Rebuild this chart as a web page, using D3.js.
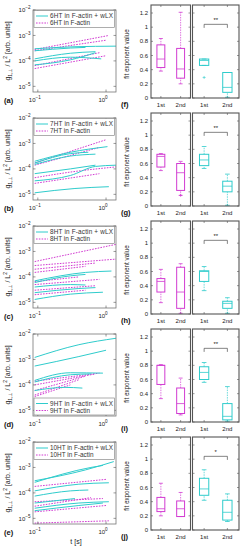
<!DOCTYPE html>
<html>
<head>
<meta charset="utf-8">
<script src="https://cdn.jsdelivr.net/npm/d3@7"></script>
<style>
  body { margin: 0; background: #fff; }
  svg { display: block; font-family: "Liberation Sans", Arial, sans-serif; }
</style>
</head>
<body>
<svg></svg>
<script>
// размеры окна
const width = 244;
const height = 550;

// подписи панелей и названия образцов
const curveLabels = ["(a)", "(b)", "(c)", "(d)", "(e)"];
const boxLabels = ["(f)", "(g)", "(h)", "(i)", "(j)"];
const htNames = ["6HT", "7HT", "8HT", "9HT", "10HT"];
const legendAtBottom = [false, false, false, true, false];
const categories = ["1st", "2nd"];
const sigMarks = ["**", "**", "**", "**", "*"];
const yTicksLog = [1e-5, 1e-4, 1e-3, 1e-2];
const xTicksLog = [0.1, 1];
const yTicksBox = [0, 0.2, 0.4, 0.6, 0.8, 1, 1.2];

// кривые g(t): [t, g] — F-actin + wLX (циан)
const cyanCurves = [
  [ [[0.09,3.0e-4],[0.35,3.6e-4],[1.4,3.8e-4]],
    [[0.09,2.5e-4],[0.3,3.2e-4],[0.5,3.4e-4]],
    [[0.09,1.2e-4],[0.3,2.0e-4],[0.7,2.3e-4]],
    [[0.09,1.0e-4],[0.3,1.4e-4],[0.85,1.2e-4]],
    [[0.09,7.0e-5],[0.3,1.1e-4],[0.7,2.1e-4]] ],
  [ [[0.09,2.0e-4],[0.3,4.5e-4],[1.05,7.5e-4]],
    [[0.09,1.7e-4],[0.3,4.0e-4],[0.55,4.5e-4]],
    [[0.09,1.5e-4],[0.3,3.2e-4],[0.7,3.8e-4]],
    [[0.09,6.5e-5],[0.3,1.0e-4],[0.7,1.4e-4]],
    [[0.09,3.4e-5],[0.3,5.5e-5],[0.7,1.25e-4],[1.4,1.4e-4]],
    [[0.09,1.15e-5],[0.35,1.7e-5],[1.1,2.0e-5]] ],
  [ [[0.09,7.0e-5],[0.5,1.5e-4],[1.2,1.7e-4]],
    [[0.09,6.0e-5],[0.3,1.1e-4],[0.5,1.25e-4]],
    [[0.09,4.0e-5],[0.3,5.0e-5],[0.5,4.8e-5]],
    [[0.09,2.4e-5],[0.4,3.5e-5],[0.7,3.8e-5]],
    [[0.09,1.3e-5],[0.3,2.1e-5],[0.9,2.5e-5]] ],
  [ [[0.09,1.2e-3],[0.4,3.8e-3],[1.4,6.8e-3]],
    [[0.09,5.5e-4],[0.4,1.3e-3],[1.0,2.3e-3]],
    [[0.09,1.5e-4],[0.3,3.0e-4],[0.9,2.9e-4]],
    [[0.09,1.3e-4],[0.3,2.5e-4],[0.6,2.7e-4]],
    [[0.09,6.0e-5],[0.25,8.0e-5],[0.45,7.5e-5]] ],
  [ [[0.09,3.0e-4],[0.5,8.0e-4],[1.3,1.7e-3]],
    [[0.09,2.6e-4],[0.6,1.0e-3],[0.9,1.2e-3]],
    [[0.09,1.2e-4],[0.4,2.2e-4],[1.1,2.5e-4]],
    [[0.09,7.5e-5],[0.3,1.2e-4],[0.55,1.3e-4]],
    [[0.09,4.0e-5],[0.35,6.0e-5]],
    [[0.09,2.0e-5],[0.4,3.2e-5],[0.9,4.0e-5]],
    [[0.09,2.5e-5],[0.4,4.0e-5],[1.1,4.5e-5]] ]
];

// кривые g(t): [t, g] — только F-actin (маджента, пунктир)
const magentaCurves = [
  [ [[0.09,2.8e-4],[1.1,1.0e-3]],
    [[0.09,2.5e-4],[1.0,6.5e-4]],
    [[0.09,6.5e-5],[0.8,2.1e-4]],
    [[0.09,5.0e-5],[1.0,1.6e-4]] ],
  [ [[0.09,1.7e-4],[1.0,1.4e-3]],
    [[0.09,1.4e-4],[0.8,7.0e-4]],
    [[0.09,4.5e-5],[0.3,7.5e-5],[1.4,1.2e-4]],
    [[0.09,2.7e-5],[0.8,6.5e-5]] ],
  [ [[0.09,4.0e-4],[1.4,1.9e-3]],
    [[0.09,2.8e-4],[1.4,5.0e-4]],
    [[0.09,2.0e-4],[0.7,3.5e-4]],
    [[0.09,1.5e-4],[0.5,2.6e-4]],
    [[0.09,6.5e-5],[0.4,1.0e-4]],
    [[0.09,5.0e-5],[0.8,8.0e-5]],
    [[0.09,3.0e-5],[0.7,4.5e-5]],
    [[0.09,2.0e-5],[0.5,3.0e-5]] ],
  [ [[0.09,1.4e-4],[0.8,2.9e-4]],
    [[0.09,1.0e-4],[0.7,2.7e-4]],
    [[0.09,6.0e-5],[0.5,2.2e-4]],
    [[0.09,4.0e-5],[0.4,1.6e-4]],
    [[0.09,3.5e-5],[0.3,1.0e-4]] ],
  [ [[0.09,1.8e-4],[1.0,3.4e-4]],
    [[0.09,4.5e-5],[0.9,6.0e-5]],
    [[0.09,3.0e-5],[0.6,6.5e-5]],
    [[0.09,1.8e-5],[1.0,3.2e-5]],
    [[0.09,6.5e-6],[1.1,8.0e-6]] ]
];

// боксплоты: [нижний ус, q1, медиана, q3, верхний ус] для 1st и 2nd
const magentaBoxes = [
  [[0.38,0.43,0.55,0.75,0.84], [0.20,0.28,0.41,0.70,1.21]],
  [[0.50,0.55,0.70,0.73,0.74], [0.15,0.22,0.47,0.60,0.63]],
  [[0.16,0.31,0.46,0.50,0.63], [0.01,0.08,0.31,0.66,0.71]],
  [[0.33,0.53,0.80,0.80,0.81], [0.10,0.12,0.26,0.48,0.62]],
  [[0.20,0.26,0.30,0.46,0.66], [0.19,0.19,0.30,0.41,0.53]]
];
const cyanBoxes = [
  [[0.46,0.46,0.53,0.55,0.55], [0.01,0.08,0.15,0.36,0.36]],
  [[0.53,0.57,0.65,0.73,0.84], [0.01,0.20,0.28,0.35,0.45]],
  [[0.33,0.46,0.60,0.61,0.67], [0.01,0.08,0.15,0.18,0.23]],
  [[0.56,0.60,0.70,0.78,0.84], [0.01,0.03,0.08,0.26,0.50]],
  [[0.42,0.49,0.58,0.73,0.85], [0.12,0.14,0.25,0.42,0.51]]
];
const magentaOutliers = [[[], []], [[], [0.15]], [[], []], [[], []], [[], []]];
const cyanOutliers = [[[0.29], []], [[], []], [[], []], [[], []], [[], []]];

const cyan = "#2fcccc";
const magenta = "#d23bd2";
const frameGray = "#555";

const svg = d3.select("svg").attr("width", width).attr("height", height);

// подпись степени 10^n
function powLabel(sel, v) {
  const e = Math.round(Math.log10(v));
  sel.append("tspan").text("10");
  sel.append("tspan").attr("dy", -3).attr("font-size", 4.6).text(String(e).replace("-", "\u2212"));
}

for (let r = 0; r < 5; r++) {
  const y0 = 98 + r * 108;
  const top = y0 - 88, bottom = y0 - 6;
  const left = 33, right = 116;

  // ---- левая панель: кривые в лог-лог ----
  const x = d3.scaleLog().domain([0.085, 1.4]).range([left, right]);
  const y = d3.scaleLog().domain([6e-6, 1e-2]).range([bottom, top]);
  const g = svg.append("g");

  g.append("clipPath").attr("id", "clip" + r)
    .append("rect").attr("x", left).attr("y", top).attr("width", right - left).attr("height", bottom - top);

  const line = d3.line().x(d => x(d[0])).y(d => y(d[1])).curve(d3.curveMonotoneX);
  const plot = g.append("g").attr("clip-path", `url(#clip${r})`);

  plot.selectAll(".mc").data(magentaCurves[r]).join("path")
    .attr("d", line).attr("fill", "none").attr("stroke", magenta)
    .attr("stroke-width", 1).attr("stroke-dasharray", "1.6,1.2");
  plot.selectAll(".cc").data(cyanCurves[r]).join("path")
    .attr("d", line).attr("fill", "none").attr("stroke", cyan).attr("stroke-width", 1);

  g.append("rect").attr("x", left).attr("y", top).attr("width", right - left).attr("height", bottom - top)
    .attr("fill", "none").attr("stroke", "#777").attr("stroke-width", 0.8);

  // деления
  yTicksLog.forEach(v => {
    g.append("line").attr("x1", left).attr("x2", left + 2.5).attr("y1", y(v)).attr("y2", y(v)).attr("stroke", "#555").attr("stroke-width", 0.6);
    g.append("line").attr("x1", right).attr("x2", right - 2.5).attr("y1", y(v)).attr("y2", y(v)).attr("stroke", "#555").attr("stroke-width", 0.6);
    const t = g.append("text").attr("x", 30.5).attr("y", y(v) + 2.2).attr("text-anchor", "end")
      .attr("font-size", 6).attr("fill", "#222");
    powLabel(t, v);
  });
  xTicksLog.forEach(v => {
    g.append("line").attr("x1", x(v)).attr("x2", x(v)).attr("y1", bottom).attr("y2", bottom - 2.5).attr("stroke", "#555").attr("stroke-width", 0.6);
    g.append("line").attr("x1", x(v)).attr("x2", x(v)).attr("y1", top).attr("y2", top + 2.5).attr("stroke", "#555").attr("stroke-width", 0.6);
    const t = g.append("text").attr("x", x(v) - 3).attr("y", bottom + 10).attr("text-anchor", "middle")
      .attr("font-size", 6).attr("fill", "#222");
    powLabel(t, v);
  });

  // подпись оси y
  const yl = g.append("text").attr("transform", `translate(10,${(top + bottom) / 2}) rotate(-90)`)
    .attr("text-anchor", "middle").attr("font-size", 7).attr("fill", "#222");
  yl.append("tspan").text("g");
  yl.append("tspan").attr("dy", 2).attr("font-size", 5).text("1,\u22a5");
  yl.append("tspan").attr("dy", -2).text(" / L");
  yl.append("tspan").attr("dy", -3).attr("font-size", 5).text("2");
  yl.append("tspan").attr("dy", 3).text(" [arb. units]");

  g.append("text").attr("x", 4).attr("y", bottom + 11).attr("font-size", 7.5).attr("font-weight", "bold")
    .attr("fill", "#111").text(curveLabels[r]);

  // легенда
  const lh = 17;
  const ly = legendAtBottom[r] ? bottom - lh - 1 : top + 0.5;
  const leg = g.append("g");
  leg.append("rect").attr("x", 34).attr("y", ly).attr("width", 80.5).attr("height", lh)
    .attr("fill", "#fff").attr("stroke", "#777").attr("stroke-width", 0.6);
  const items = [[htNames[r] + " in F-actin + wLX", cyan, null], [htNames[r] + " in F-actin", magenta, "1.6,1.2"]];
  items.forEach((it, i) => {
    const yy = ly + 5.5 + i * 7;
    leg.append("line").attr("x1", 36).attr("x2", 48).attr("y1", yy).attr("y2", yy)
      .attr("stroke", it[1]).attr("stroke-width", 1).attr("stroke-dasharray", it[2]);
    leg.append("text").attr("x", 50).attr("y", yy + 2.2).attr("font-size", 6.4).attr("fill", "#333")
      .attr("textLength", i === 0 ? 63 : null).text(it[0]);
  });

  // ---- правая панель: боксплоты ----
  const yb = d3.scaleLinear().domain([0, 1.2]).range([y0, y0 - 85]);
  const frames = [[151, 190.5, magenta, magentaBoxes[r], magentaOutliers[r]], [192.5, 239, cyan, cyanBoxes[r], cyanOutliers[r]]];
  frames.forEach((f, k) => {
    const xb = d3.scalePoint().domain(categories).range([f[0], f[1]]).padding(0.5);
    const bw = 0.4 * xb.step();
    const fg = svg.append("g");

    yTicksBox.forEach(v => {
      fg.append("line").attr("x1", f[0]).attr("x2", f[0] + 2).attr("y1", yb(v)).attr("y2", yb(v)).attr("stroke", "#333").attr("stroke-width", 0.5);
      fg.append("line").attr("x1", f[1]).attr("x2", f[1] - 2).attr("y1", yb(v)).attr("y2", yb(v)).attr("stroke", "#333").attr("stroke-width", 0.5);
      if (k === 0) {
        fg.append("text").attr("x", 148).attr("y", yb(v) + 2).attr("text-anchor", "end")
          .attr("font-size", 6).attr("fill", "#222").text(v);
      }
    });
    categories.forEach((c, i) => {
      const cx = xb(c);
      const b = f[3][i];
      fg.append("line").attr("x1", cx).attr("x2", cx).attr("y1", y0).attr("y2", y0 - 2).attr("stroke", "#333").attr("stroke-width", 0.5);
      fg.append("line").attr("x1", cx).attr("x2", cx).attr("y1", y0 - 93).attr("y2", y0 - 91).attr("stroke", "#333").attr("stroke-width", 0.5);
      fg.append("text").attr("x", cx).attr("y", y0 + 9).attr("text-anchor", "middle")
        .attr("font-size", 6).attr("fill", "#222").text(c);
      // усы
      fg.append("line").attr("x1", cx).attr("x2", cx).attr("y1", yb(b[0])).attr("y2", yb(b[1]))
        .attr("stroke", f[2]).attr("stroke-width", 0.7).attr("stroke-dasharray", "1.5,1");
      fg.append("line").attr("x1", cx).attr("x2", cx).attr("y1", yb(b[3])).attr("y2", yb(b[4]))
        .attr("stroke", f[2]).attr("stroke-width", 0.7).attr("stroke-dasharray", "1.5,1");
      [b[0], b[4]].forEach(w => {
        fg.append("line").attr("x1", cx - bw / 4).attr("x2", cx + bw / 4).attr("y1", yb(w)).attr("y2", yb(w))
          .attr("stroke", f[2]).attr("stroke-width", 0.8);
      });
      fg.append("rect").attr("x", cx - bw / 2).attr("y", yb(b[3])).attr("width", bw).attr("height", Math.max(0.5, yb(b[1]) - yb(b[3])))
        .attr("fill", "none").attr("stroke", f[2]).attr("stroke-width", 1);
      fg.append("line").attr("x1", cx - bw / 2).attr("x2", cx + bw / 2).attr("y1", yb(b[2])).attr("y2", yb(b[2]))
        .attr("stroke", f[2]).attr("stroke-width", 0.8);
      f[4][i].forEach(o => {
        fg.append("path").attr("d", `M${cx - 1.5},${yb(o)}h3M${cx},${yb(o) - 1.5}v3`)
          .attr("stroke", f[2]).attr("stroke-width", 0.6);
      });
    });

    fg.append("rect").attr("x", f[0]).attr("y", y0 - 93).attr("width", f[1] - f[0]).attr("height", 93)
      .attr("fill", "none").attr("stroke", frameGray).attr("stroke-width", 1.1);

    // значимость
    if (k === 1) {
      const x1 = xb(categories[0]), x2 = xb(categories[1]);
      fg.append("path").attr("d", `M${x1},${yb(0.99)}V${yb(1.04)}H${x2}V${yb(0.99)}`)
        .attr("fill", "none").attr("stroke", "#333").attr("stroke-width", 0.6);
      fg.append("text").attr("x", (x1 + x2) / 2).attr("y", yb(1.07)).attr("text-anchor", "middle")
        .attr("font-size", 6).attr("fill", "#222").text(sigMarks[r]);
    }
  });

  svg.append("text").attr("transform", `translate(129,${y0 - 44}) rotate(-90)`).attr("text-anchor", "middle")
    .attr("font-size", 6.3).attr("fill", "#222").text("fit exponent value");
  svg.append("text").attr("x", 121).attr("y", y0 + 9).attr("font-size", 7.5).attr("font-weight", "bold")
    .attr("fill", "#111").text(boxLabels[r]);
}

svg.append("text").attr("x", 76).attr("y", 544).attr("text-anchor", "middle")
  .attr("font-size", 7).attr("fill", "#222").text("t [s]");
</script>
</body>
</html>
